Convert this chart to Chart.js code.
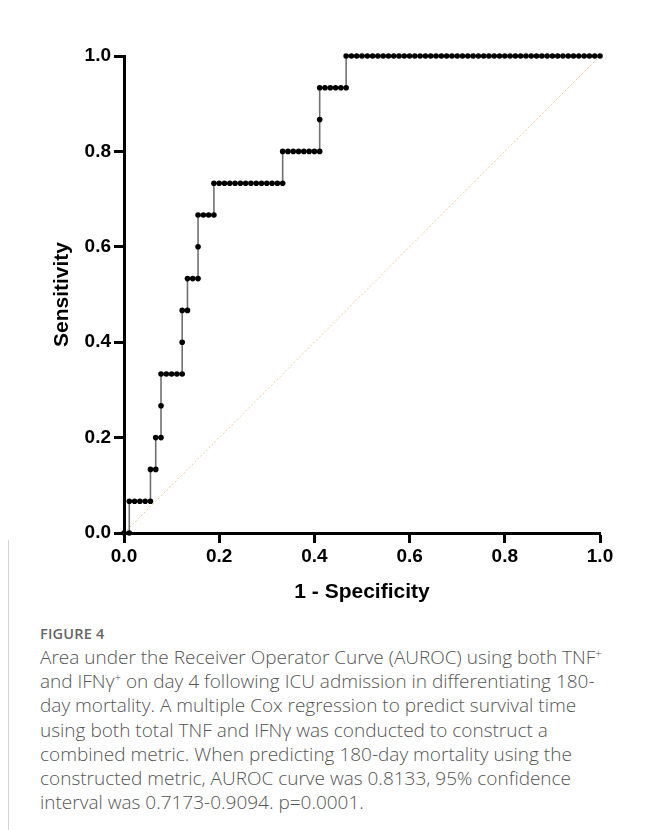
<!DOCTYPE html>
<html>
<head>
<meta charset="utf-8">
<script src="https://cdn.jsdelivr.net/npm/chart.js@4"></script>
<style>
  body { margin: 0; background: #fff; }
  #wrap { position: relative; width: 646px; height: 830px; overflow: hidden; }
  #chartBox { position: absolute; left: 0; top: 0; width: 646px; height: 620px; }
  #rule { position: absolute; left: 8px; top: 540px; width: 1px; height: 290px; background: #d4d4d4; }
  #figLabel { position: absolute; left: 40px; top: 624px; font: 600 14.5px "Open Sans", sans-serif; color: #666; letter-spacing: 0.2px; }
  #caption { position: absolute; left: 40px; top: 645px; font: 300 19px/24.2px "Open Sans", sans-serif; color: #555; white-space: nowrap; }
  #caption sup { font-size: 11px; line-height: 0; }
</style>
</head>
<body>
<div id="wrap">
  <div id="chartBox"><canvas id="rocChart" width="646" height="620"></canvas></div>
  <div id="rule"></div>
  <div id="figLabel">FIGURE 4</div>
  <div id="caption">
    Area under the Receiver Operator Curve (AUROC) using both TNF<sup>+</sup><br>
    and IFNγ<sup>+</sup> on day 4 following ICU admission in differentiating 180-<br>
    day mortality. A multiple Cox regression to predict survival time<br>
    using both total TNF and IFNγ was conducted to construct a<br>
    combined metric. When predicting 180-day mortality using the<br>
    constructed metric, AUROC curve was 0.8133, 95% confidence<br>
    interval was 0.7173-0.9094. p=0.0001.
  </div>
</div>
<script>
// ROC points: counts of false / true positives per threshold
const negatives = 90;
const positives = 15;

const falsePositives = [
  0, 1,
  1, 2, 3, 4, 5,
  5, 6,
  6, 7,
  7,
  7, 8, 9, 10, 11,
  11,
  11, 12,
  12, 13, 14,
  14,
  14, 15, 16, 17,
  17, 18, 19, 20, 21, 22, 23, 24, 25, 26, 27, 28, 29, 30,
  30, 31, 32, 33, 34, 35, 36, 37,
  37,
  37, 38, 39, 40, 41, 42,
  42, 43, 44, 45, 46, 47, 48, 49, 50, 51, 52, 53, 54, 55, 56, 57, 58, 59, 60,
  61, 62, 63, 64, 65, 66, 67, 68, 69, 70, 71, 72, 73, 74, 75, 76, 77, 78, 79,
  80, 81, 82, 83, 84, 85, 86, 87, 88, 89, 90
];

const truePositives = [
  0, 0,
  1, 1, 1, 1, 1,
  2, 2,
  3, 3,
  4,
  5, 5, 5, 5, 5,
  6,
  7, 7,
  8, 8, 8,
  9,
  10, 10, 10, 10,
  11, 11, 11, 11, 11, 11, 11, 11, 11, 11, 11, 11, 11, 11,
  12, 12, 12, 12, 12, 12, 12, 12,
  13,
  14, 14, 14, 14, 14, 14,
  15, 15, 15, 15, 15, 15, 15, 15, 15, 15, 15, 15, 15, 15, 15, 15, 15, 15, 15,
  15, 15, 15, 15, 15, 15, 15, 15, 15, 15, 15, 15, 15, 15, 15, 15, 15, 15, 15,
  15, 15, 15, 15, 15, 15, 15, 15, 15, 15, 15
];

const chanceLine = [[0, 0], [1, 1]];
const tickValues = [0, 0.2, 0.4, 0.6, 0.8, 1.0];

const rocPoints = falsePositives.map((fp, i) => ({ x: fp / negatives, y: truePositives[i] / positives }));

const axisFont = { family: "'Liberation Sans', Arial, sans-serif", weight: "bold", size: 19 };
const titleFont = { family: "'Liberation Sans', Arial, sans-serif", weight: "bold", size: 21 };

function axisOpts(title, titlePad, tickPad) {
  return {
    type: "linear",
    min: 0,
    max: 1,
    afterBuildTicks: scale => { scale.ticks = tickValues.map(v => ({ value: v })); },
    ticks: {
      callback: v => v.toFixed(1),
      font: axisFont,
      color: "#000",
      padding: tickPad,
      maxRotation: 0
    },
    grid: {
      drawOnChartArea: false,
      drawTicks: true,
      tickLength: 10,
      tickWidth: 3,
      tickColor: "#000"
    },
    border: { display: true, color: "#000", width: 3 },
    title: { display: true, text: title, font: titleFont, color: "#000", padding: titlePad }
  };
}

const xAxis = axisOpts("1 - Specificity", { top: 0, bottom: 15 }, 2);
xAxis.afterFit = scale => { scale.height = 87; };
const yAxis = axisOpts("Sensitivity", { top: 50, bottom: 0 }, 3);
yAxis.afterFit = scale => { scale.width = 124; };

new Chart(document.getElementById("rocChart").getContext("2d"), {
  type: "scatter",
  data: {
    datasets: [
      {
        label: "ROC",
        data: rocPoints,
        showLine: true,
        borderColor: "#707070",
        borderWidth: 1.6,
        pointRadius: 2.8,
        pointBackgroundColor: "#000",
        pointBorderWidth: 0,
        clip: false,
        order: 1
      },
      {
        label: "Chance",
        data: chanceLine.map(p => ({ x: p[0], y: p[1] })),
        showLine: true,
        borderColor: "#efc98f",
        borderWidth: 1,
        borderDash: [2, 2],
        pointRadius: 0,
        order: 2
      }
    ]
  },
  options: {
    responsive: false,
    animation: false,
    devicePixelRatio: 1,
    layout: { padding: { left: 0, top: 56, right: 46, bottom: 0 } },
    plugins: { legend: { display: false }, tooltip: { enabled: false } },
    scales: { x: xAxis, y: yAxis }
  }
});
</script>
</body>
</html>
